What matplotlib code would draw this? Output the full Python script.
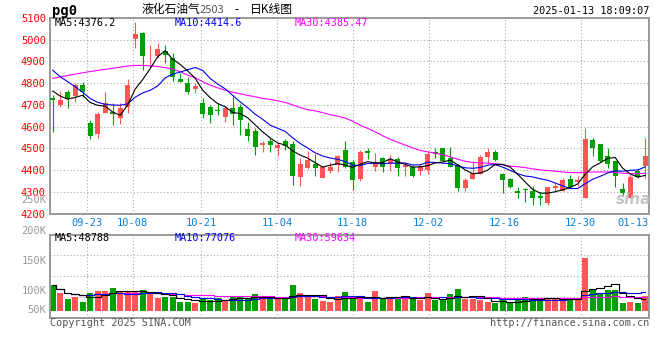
import numpy as np
import pandas as pd
import matplotlib
matplotlib.use("Agg")
import matplotlib.pyplot as plt

# daily K-line for LPG 2503, 2024-09-12 .. 2025-01-13 (80 sessions)
opens = [4729, 4699, 4757, 4741, 4790, 4617, 4567, 4663, 4666, 4640,
         4692, 5002, 5029, 4904, 4924, 4946, 4917, 4818, 4801, 4773,
         4706, 4688, 4676, 4645, 4683, 4691, 4588, 4581, 4513, 4533,
         4503, 4533, 4520, 4370, 4411, 4428, 4365, 4397, 4423, 4492,
         4438, 4360, 4487, 4416, 4454, 4429, 4451, 4412, 4414, 4397,
         4400, 4483, 4500, 4454, 4423, 4319, 4360, 4382, 4461, 4484,
         4382, 4359, 4304, 4313, 4304, 4281, 4250, 4319, 4305, 4359,
         4344, 4273, 4538, 4520, 4465, 4443, 4313, 4273, 4396, 4419]
highs = [4745, 4763, 4766, 4798, 4806, 4630, 4665, 4760, 4706, 4706,
         4818, 5081, 5035, 4974, 4982, 4975, 4939, 4844, 4830, 4798,
         4729, 4698, 4706, 4696, 4744, 4702, 4619, 4591, 4533, 4546,
         4523, 4543, 4533, 4457, 4489, 4475, 4420, 4438, 4469, 4533,
         4445, 4490, 4500, 4477, 4460, 4469, 4461, 4431, 4423, 4426,
         4489, 4500, 4503, 4506, 4428, 4365, 4443, 4469, 4500, 4490,
         4385, 4363, 4324, 4316, 4328, 4301, 4322, 4339, 4362, 4377,
         4373, 4592, 4549, 4520, 4500, 4443, 4339, 4380, 4405, 4546]
lows = [4576, 4691, 4686, 4714, 4737, 4543, 4549, 4660, 4607, 4610,
        4660, 4962, 4859, 4875, 4913, 4890, 4810, 4803, 4750, 4752,
        4640, 4617, 4653, 4622, 4607, 4561, 4533, 4469, 4481, 4481,
        4466, 4492, 4331, 4328, 4405, 4374, 4362, 4388, 4390, 4408,
        4308, 4350, 4451, 4396, 4393, 4397, 4374, 4374, 4370, 4377,
        4383, 4454, 4440, 4412, 4305, 4305, 4357, 4380, 4431, 4443,
        4293, 4319, 4273, 4252, 4240, 4237, 4240, 4301, 4304, 4319,
        4328, 4273, 4465, 4438, 4408, 4321, 4285, 4273, 4362, 4362]
closes = [4723, 4722, 4726, 4790, 4757, 4558, 4656, 4706, 4656, 4683,
          4792, 5024, 4925, 4908, 4957, 4930, 4826, 4806, 4760, 4786,
          4657, 4654, 4671, 4686, 4656, 4630, 4558, 4507, 4526, 4515,
          4515, 4512, 4373, 4428, 4446, 4408, 4412, 4416, 4466, 4412,
          4354, 4485, 4476, 4437, 4416, 4445, 4411, 4422, 4373, 4420,
          4474, 4474, 4443, 4416, 4315, 4354, 4388, 4458, 4483, 4446,
          4354, 4324, 4293, 4309, 4273, 4270, 4322, 4327, 4354, 4324,
          4354, 4543, 4500, 4443, 4428, 4374, 4296, 4370, 4370, 4466]
vol_k = [104, 73, 47, 57, 36, 73, 81, 81, 93, 77,
         77, 77, 84, 68, 53, 57, 59, 36, 36, 32,
         47, 43, 53, 43, 59, 59, 53, 68, 54, 47,
         47, 47, 104, 73, 63, 47, 39, 36, 63, 77,
         50, 50, 36, 80, 54, 59, 59, 50, 50, 43,
         73, 43, 43, 68, 88, 47, 50, 43, 36, 32,
         43, 36, 43, 59, 54, 50, 50, 50, 50, 43,
         50, 215, 84, 73, 84, 84, 32, 36, 32, 63]

# moving averages before enough history is on the chart
ma5_head = [4763, 4740, 4726, 4734]
ma10_head = [4859, 4829, 4806, 4783, 4757, 4729, 4711, 4702, 4699]
ma30_head = [4821, 4828, 4835, 4841, 4847, 4853, 4858, 4863, 4868, 4873,
             4878, 4881, 4881, 4879, 4876, 4871, 4864, 4852, 4836, 4824,
             4806, 4790, 4778, 4767, 4758, 4751, 4743, 4737, 4729]

tick_idx = [5, 11, 20, 30, 40, 50, 60, 70, 79]
tick_labels = ["09-23", "10-08", "10-21", "11-04", "11-18", "12-02",
               "12-16", "12-30", "01-13"]
price_ticks = [4200, 4300, 4400, 4500, 4600, 4700, 4800, 4900, 5000, 5100]

RED = "#FF5555"
GREEN = "#00A000"
MONO = "DejaVu Sans Mono"
CJK = ["Noto Sans CJK SC", "DejaVu Sans"]
W, H = 660, 360


def fx(px):
    return px / W


def fy(py):
    return 1 - py / H


o = np.array(opens, float)
c = np.array(closes, float)
hi = np.array(highs, float)
lo = np.array(lows, float)
vol = np.array(vol_k, float)
x = np.arange(len(c))
up = c >= o
cols = np.where(up, RED, GREEN)

cs = pd.Series(c)
ma5 = cs.rolling(5).mean().to_numpy()
ma10 = cs.rolling(10).mean().to_numpy()
ma30 = cs.rolling(30).mean().to_numpy()
ma5[:len(ma5_head)] = ma5_head
ma10[:len(ma10_head)] = ma10_head
ma30[:len(ma30_head)] = ma30_head

vs = pd.Series(vol)
vma5 = vs.rolling(5, min_periods=1).mean()
vma10 = vs.rolling(10, min_periods=1).mean()
vma30 = vs.rolling(30, min_periods=1).mean()

fig = plt.figure(figsize=(6.6, 3.6), dpi=100)
ax = fig.add_axes([fx(50), fy(213.5), fx(599), (213.5 - 17.8) / H])
axv = fig.add_axes([fx(50), fy(318), fx(599), (318 - 234.5) / H])

# candles are 7.5 px apart, first one 2.7 px in from the frame
xmin, xmax = -2.7 / 7.5, (599 - 2.7) / 7.5
# date grid is laid out on width/79 steps, not on the candle step
tick_pos = np.minimum((49 + np.array(tick_idx) * 600 / 79 - 52.7) / 7.5, xmax)

for a in (ax, axv):
    a.set_xlim(xmin, xmax)
    a.set_axisbelow(True)
    a.grid(True, color="#AAAAAA", linestyle=(0, (1, 2)), linewidth=0.8)
    for s in a.spines.values():
        s.set_color("#999999")
        s.set_linewidth(1.4)
    a.set_xticks(tick_pos)
    a.tick_params(length=0)

# price panel
body = np.maximum(np.abs(c - o), 4)
ax.vlines(x, lo, hi, colors=cols, linewidth=0.8, zorder=2)
ax.bar(x, body, bottom=np.minimum(o, c), width=0.67, color=cols, zorder=3)
ax.plot(x, ma30, color="#FF00FF", lw=0.8, zorder=4)
ax.plot(x, ma10, color="#0000EE", lw=0.8, zorder=4)
ax.plot(x, ma5, color="black", lw=0.8, zorder=4)
ax.set_ylim(4200, 5100)
ax.set_yticks(price_ticks)
ax.set_yticklabels([str(t) for t in price_ticks], family=MONO, fontsize=7.5,
                   color="red")
ax.set_xticklabels(tick_labels, family=MONO, fontsize=7.5, color="#0A7FD8")
ax.tick_params(axis="y", pad=3)
ax.tick_params(axis="x", pad=3)
ax.get_xticklabels()[-1].set_horizontalalignment("right")

# volume panel
axv.bar(x, vol, width=0.8, color=cols, zorder=2)
axv.plot(x, vma30, color="#FF00FF", lw=0.8, drawstyle="steps-mid", zorder=3)
axv.plot(x, vma10, color="#0000EE", lw=0.8, drawstyle="steps-mid", zorder=3)
axv.plot(x, vma5, color="black", lw=0.8, drawstyle="steps-mid", zorder=3)
v0, v1 = -28, 310
axv.set_ylim(v0, v1)
axv.set_yticks([v0 + (v1 - v0) * f for f in (0.25, 0.5, 0.75)])
axv.set_yticklabels([])
axv.set_xticklabels([])

# texts
fig.text(fx(52), fy(11), "pg0", family=MONO, fontweight="bold", fontsize=10,
         va="center")
fig.text(fx(142), fy(9.5), "液化石油气", family=CJK, fontsize=8.5, va="center")
fig.text(fx(200), fy(10), "2503", family=CJK, fontsize=8, va="center",
         color="#555555")
fig.text(fx(234), fy(10), "-", family=CJK, fontsize=8.5, va="center")
fig.text(fx(250), fy(9.5), "日K线图", family=CJK, fontsize=8.5, va="center")
fig.text(fx(649), fy(11.5), "2025-01-13 18:09:07", family=MONO, fontsize=7.3,
         ha="right", va="center")

ma_x = [55, 175, 295]
ma_cols = ["black", "#0000EE", "#FF00FF"]
for px, col, s in zip(ma_x, ma_cols, ["MA5:4376.2", "MA10:4414.6", "MA30:4385.47"]):
    fig.text(fx(px), fy(22.5), s, family=MONO, fontsize=7.3, color=col,
             va="center")
for px, col, s in zip(ma_x, ma_cols, ["MA5:48788", "MA10:77076", "MA30:59634"]):
    fig.text(fx(px), fy(238.3), s, family=MONO, fontsize=7.3, color=col,
             va="center")

for py, s in [(200, "250K"), (231, "200K"), (261, "150K"), (291, "100K"), (310, "50K")]:
    fig.text(fx(46.5), fy(py), s, family=MONO, fontsize=7.5, color="#999999",
             ha="right", va="center")

fig.text(fx(50), fy(323.5), "Copyright 2025 SINA.COM", family=MONO,
         fontsize=7.3, color="#555555", va="center")
fig.text(fx(649), fy(323.5), "http://finance.sina.com.cn", family=MONO,
         fontsize=7.3, color="#555555", ha="right", va="center")
fig.text(fx(634), fy(200), "sina", family="DejaVu Sans", fontsize=11,
         fontweight="bold", style="italic", color="#BBBBBB", alpha=0.85,
         ha="center", va="center", zorder=10)

fig.savefig("out.png", dpi=100)
